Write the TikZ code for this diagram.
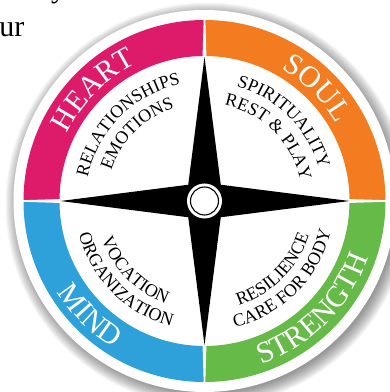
\documentclass[tikz,border=0pt]{standalone}
\usepackage{fontspec}
\setmainfont{Liberation Serif}
\usetikzlibrary{calc,decorations.text}
\definecolor{heartc}{RGB}{222,26,106}
\definecolor{soulc}{RGB}{243,124,33}
\definecolor{mindc}{RGB}{46,160,218}
\definecolor{strengthc}{RGB}{101,186,72}
\newcommand\bandfont{\fontsize{30}{30}\selectfont}
\newcommand\innerfont{\fontsize{18}{18}\selectfont}
\newcommand\bandquad[3]{\fill[#1] ($(C)+(#2:181)$) arc[start angle=#2, end angle=#3, radius=181] -- ($(C)+(#3:145)$) arc[start angle=#3, end angle=#2, radius=145] -- cycle;}
\begin{document}
\begin{tikzpicture}[x=1pt,y=1pt,
  bandtext/.style={decorate, decoration={text along path, text align=center, text color=white, text={|\bandfont|#1}}},
  innertext/.style={decorate, decoration={text along path, text align=center, text color=black, text={|\innerfont|#1}}},
  doctext/.style={inner sep=0pt, font=\fontsize{30}{30}\selectfont}
]
\useasboundingbox (0,0) rectangle (390,392);
\clip (0,0) rectangle (390,392);
\coordinate (C) at (204.5,191);
\coordinate (Sh) at (207.5,187.5);
% shadow
\foreach \i in {1,...,14} { \fill[black,opacity=0.035] (Sh) circle ({188+\i}); }
\fill[white] (C) circle (191);
% coloured band
\bandquad{heartc}{90}{180}
\bandquad{soulc}{0}{90}
\bandquad{mindc}{180}{270}
\bandquad{strengthc}{270}{360}
% gaps between quadrants
\foreach \a in {0,90,180,270} {
  \fill[white] ($(C)+(\a+0.8:143)$) -- ($(C)+(\a+0.25:182)$) -- ($(C)+(\a-0.25:182)$) -- ($(C)+(\a-0.8:143)$) -- cycle;
}
% compass star
\fill[black] ($(C)+(90:144)$) -- ($(C)+(135:23)$) -- ($(C)+(180:144)$) -- ($(C)+(225:23)$) -- ($(C)+(270:144)$) -- ($(C)+(315:23)$) -- ($(C)+(0:145)$) -- ($(C)+(45:23)$) -- cycle;
\fill[white] (C) circle (17.5);
\draw[line width=1.1pt] (C) circle (14);
% band words
\path[bandtext={HEART}] ($(C)+(180:153)$) arc[start angle=180, end angle=90, radius=153];
\path[bandtext={SOUL}] ($(C)+(90:153)$) arc[start angle=90, end angle=0, radius=153];
\path[bandtext={MIND}] ($(C)+(180:173)$) arc[start angle=180, end angle=270, radius=173];
\path[bandtext={STRENGTH}] ($(C)+(270:173)$) arc[start angle=270, end angle=360, radius=173];
% inner words
\path[innertext={RELATIONSHIPS}] ($(C)+(180:119)$) arc[start angle=180, end angle=90, radius=119];
\path[innertext={EMOTIONS}] ($(C)+(180:98)$) arc[start angle=180, end angle=90, radius=98];
\path[innertext={SPIRITUALITY}] ($(C)+(90:119)$) arc[start angle=90, end angle=0, radius=119];
\path[innertext={REST {\&} PLAY}] ($(C)+(90:98)$) arc[start angle=90, end angle=0, radius=98];
\path[innertext={ORGANIZATION}] ($(C)+(180:130)$) arc[start angle=180, end angle=270, radius=130];
\path[innertext={VOCATION}] ($(C)+(180:110)$) arc[start angle=180, end angle=270, radius=110];
\path[innertext={CARE FOR BODY}] ($(C)+(270:130)$) arc[start angle=270, end angle=360, radius=130];
\path[innertext={RESILIENCE}] ($(C)+(270:110)$) arc[start angle=270, end angle=360, radius=110];
% fragments of the surrounding page text
\node[doctext, anchor=base east] (ur) at (24.5,355.3) {ur};
\node[doctext, anchor=base west] (yy) at (51,394) {y};
\end{tikzpicture}
\end{document}
